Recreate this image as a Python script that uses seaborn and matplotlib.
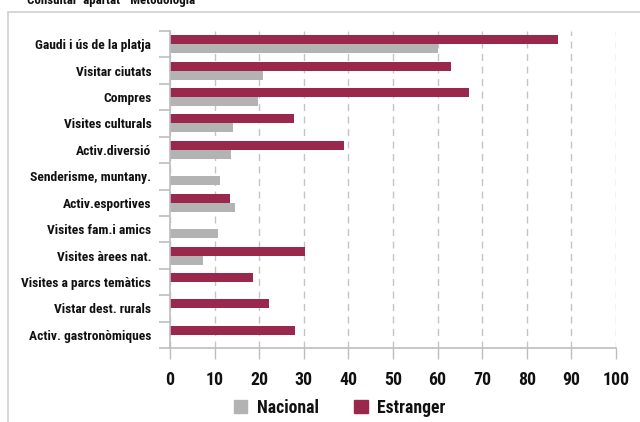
import pandas as pd
import matplotlib
matplotlib.use("Agg")
import matplotlib.pyplot as plt
import matplotlib.patches as mpatches
import seaborn as sns
from matplotlib import font_manager

activitats = ["Gaudi i ús de la platja", "Visitar ciutats", "Compres", "Visites culturals",
              "Activ.diversió", "Senderisme, muntany.", "Activ.esportives", "Visites fam.i amics",
              "Visites àrees nat.", "Visites a parcs temàtics", "Vistar dest. rurals",
              "Activ. gastronòmiques"]
nacional = [60.2, 20.8, 19.7, 14.1, 13.6, 11.1, 14.5, 10.7, 7.3, 0, 0, 0]
estranger = [87.0, 63.0, 67.0, 27.7, 39.0, 0, 13.4, 0, 30.2, 18.5, 22.1, 28.0]
x_ticks = list(range(0, 101, 10))

col_nac = "#b3b3b3"
col_est = "#99284c"


# look for a narrow bold face, the original uses a very condensed type
def pick_font():
    best = None
    for f in font_manager.fontManager.ttflist:
        narrow = ("Condensed" in f.name or "Narrow" in f.name
                  or f.stretch in ("condensed", "semi-condensed", "extra-condensed", "ultra-condensed"))
        w = f.weight if isinstance(f.weight, int) else {"bold": 700, "semibold": 600}.get(f.weight, 400)
        if narrow and w >= 600 and "Oblique" not in f.fname and "Italic" not in f.fname:
            if best is None or "Bold" in f.fname:
                best = f
    if best is not None:
        return font_manager.FontProperties(fname=best.fname)
    return font_manager.FontProperties(family=["Roboto", "DejaVu Sans"], weight="bold")


fp = pick_font()

df = pd.DataFrame({
    "activitat": activitats * 2,
    "valor": estranger + nacional,
    "origen": ["Estranger"] * len(activitats) + ["Nacional"] * len(activitats),
})

sns.set_style("white")

fig = plt.figure(figsize=(6.4, 4.22), dpi=100)
renderer = fig.canvas.get_renderer()


def fit(text, px, cap):
    p = fp.copy()
    p.set_size(10)
    t = fig.text(0, 0, text, fontproperties=p)
    w = t.get_window_extent(renderer).width
    t.remove()
    return min(cap, 10 * px / w)


ysize = fit("Visites a parcs temàtics", 130, 12.5)
xsize = fit("100", 27, 15)
lsize = fit("Estranger", 68, 15)
tsize = fit('Consultar  apartat  "Metodologia"', 172, 14)

ax = fig.add_axes([170 / 640, 1 - 348 / 422, 446 / 640, 317 / 422])

sns.barplot(data=df, y="activitat", x="valor", hue="origen", orient="h",
            hue_order=["Estranger", "Nacional"], palette=[col_est, col_nac],
            width=0.68, linewidth=0, saturation=1, ax=ax, legend=False)

ax.set_xlim(0, 100)
ax.set_xticks(x_ticks)
ax.set_xlabel("")
ax.set_ylabel("")
ax.set_yticks([i + 0.5 for i in range(-1, len(activitats))], minor=True)
ax.tick_params(axis="y", which="major", length=0, pad=13.5)
ax.tick_params(axis="y", which="minor", length=8, width=1.2, color="#bdbdbd", direction="out", left=True)
ax.tick_params(axis="x", length=8, width=1, color="#bdbdbd", direction="out", pad=8.5, bottom=True)
for lbl in ax.get_yticklabels():
    lbl.set_fontproperties(fp)
    lbl.set_fontsize(ysize)
    lbl.set_color("#111111")
for lbl in ax.get_xticklabels():
    lbl.set_fontproperties(fp)
    lbl.set_fontsize(xsize)
    lbl.set_color("#111111")
ax.xaxis.grid(True, color="#c4c4c4", linestyle=(0, (5, 4)), linewidth=1)
ax.yaxis.grid(False)
ax.set_axisbelow(True)
for s in ["top", "right"]:
    ax.spines[s].set_visible(False)
for s in ["left", "bottom"]:
    ax.spines[s].set_color("#bdbdbd")
    ax.spines[s].set_linewidth(1.2)

lp = fp.copy()
lp.set_size(lsize)
handles = [mpatches.Patch(color=col_nac, label="Nacional"),
           mpatches.Patch(color=col_est, label="Estranger")]
leg = fig.legend(handles=handles, loc="center", bbox_to_anchor=(340 / 640, 1 - 408 / 422), ncol=2,
                 frameon=False, handlelength=0.75, handleheight=0.75, handletextpad=0.55,
                 columnspacing=2.0, prop=lp)
for t in leg.get_texts():
    t.set_color("#111111")

fig.patches.append(mpatches.Rectangle((8 / 640, -0.1), 1.2, 1 - 12 / 422 + 0.1,
                                      transform=fig.transFigure, fill=False,
                                      edgecolor="#d0d0d0", linewidth=1.2))
tp = fp.copy()
tp.set_size(tsize)
fig.text(27 / 640, 1 - 4 / 422, 'Consultar  apartat  "Metodologia"', fontproperties=tp,
         va="baseline", ha="left", color="#111111")

fig.savefig("out.png", dpi=100)
